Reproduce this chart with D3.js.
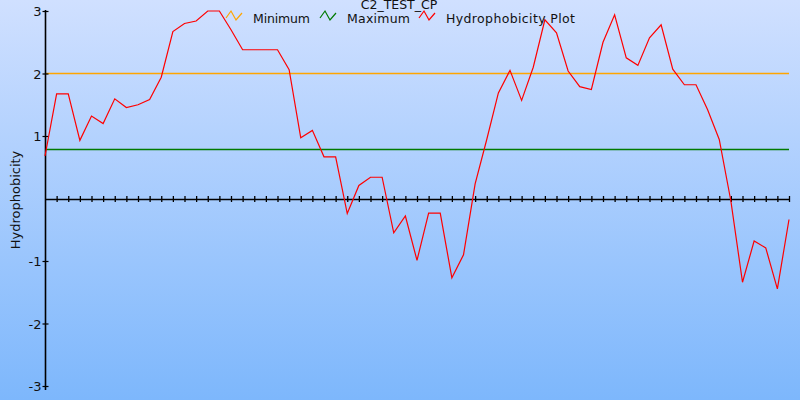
<!DOCTYPE html>
<html><head><meta charset="utf-8">
<script src="https://cdn.jsdelivr.net/npm/d3@7"></script>
<style>html,body{margin:0;padding:0;overflow:hidden;}svg{display:block;}</style>
</head><body>
<script>
const title = "C2_TEST_CP";
const yLabel = "Hydrophobicity";
const seriesNames = ["Minimum", "Maximum", "Hydrophobicity Plot"];
const seriesColors = ["#ffa500", "#007a00", "#ff0000"];
const minimumValue = 2.0;
const maximumValue = 0.8;
const yTicks = [-3, -2, -1, 1, 2, 3];
const positions = d3.range(0, 65);
const hydrophobicity = [0.68,1.675,1.675,0.93,1.32,1.2,1.595,1.456,1.5,1.584,1.94,2.67,2.8,2.84,3.0,3.0,2.7,2.38,2.38,2.38,2.38,2.06,0.97,1.09,0.667,0.667,-0.24,0.208,0.34,0.34,-0.55,-0.28,-0.99,-0.235,-0.235,-1.27,-0.9,0.235,0.944,1.69,2.05,1.57,2.1,2.86,2.65,2.04,1.79,1.744,2.5,2.94,2.25,2.13,2.57,2.78,2.07,1.82,1.82,1.42,0.944,-0.04,-1.34,-0.68,-0.79,-1.445,-0.336];

const W = 800, H = 400;
const svg = d3.select("body").append("svg").attr("width", W).attr("height", H)
  .style("font-family", "DejaVu Sans");
const defs = svg.append("defs");
const grad = defs.append("linearGradient").attr("id", "bg").attr("x1", 0).attr("y1", 0).attr("x2", 0).attr("y2", 1);
grad.append("stop").attr("offset", "0%").attr("stop-color", "#d0e0ff");
grad.append("stop").attr("offset", "100%").attr("stop-color", "#7db7fc");
svg.append("rect").attr("width", W).attr("height", H).attr("fill", "url(#bg)");

const x = d3.scaleLinear().domain([0, 64]).range([45, 789]);
const y = d3.scaleLinear().domain([-3, 3]).range([386, 11]);
const py = v => Math.round(y(v)) + 0.5;

// threshold lines
svg.append("line").attr("x1", x(0)).attr("x2", x(64)).attr("y1", py(minimumValue)).attr("y2", py(minimumValue))
  .attr("stroke", seriesColors[0]).attr("stroke-width", 1.6);
svg.append("line").attr("x1", x(0)).attr("x2", x(64)).attr("y1", py(maximumValue)).attr("y2", py(maximumValue))
  .attr("stroke", seriesColors[1]).attr("stroke-width", 1.3);

// x axis at zero
const xAxis = d3.axisBottom(x).tickValues(positions.slice(1)).tickSize(6).tickFormat("");
const gx = svg.append("g").attr("transform", `translate(0,${Math.round(y(0)) - 3})`).call(xAxis);
gx.select(".domain").remove();
gx.selectAll(".tick line").attr("stroke", "#000").attr("stroke-width", 1.3);
svg.append("line").attr("x1", x(0)).attr("x2", x(64)).attr("y1", py(0)).attr("y2", py(0))
  .attr("stroke", "#000").attr("stroke-width", 1.6);

// y axis
const yAxis = d3.axisLeft(y).tickValues(yTicks).tickSize(6).tickPadding(1).tickFormat(d => String(d));
const gy = svg.append("g").attr("transform", `translate(${x(0) + 3.5},0)`).call(yAxis);
gy.select(".domain").remove();
gy.selectAll(".tick line").attr("stroke", "#000").attr("stroke-width", 1.2);
gy.selectAll(".tick text").attr("font-size", 13).attr("fill", "#111").attr("font-family", "DejaVu Sans").attr("dy", "0.36em");
svg.append("line").attr("x1", x(0) + 0.5).attr("x2", x(0) + 0.5).attr("y1", 10).attr("y2", 390)
  .attr("stroke", "#000").attr("stroke-width", 1.6);

// data line
const line = d3.line().x((d, i) => x(positions[i])).y(d => y(d));
svg.append("path").datum(hydrophobicity).attr("d", line).attr("fill", "none")
  .attr("stroke", seriesColors[2]).attr("stroke-width", 1.2);

// title
svg.append("text").attr("x", 399).attr("y", 9).attr("text-anchor", "middle").attr("font-size", 12.5).attr("fill", "#111").text(title);

// legend
const legendX = [226, 320, 419];
const legendW = [57, 63, 129];
const iconPts = [[0, 7], [5, 0], [10, 9], [16, 2]];
const iconLine = d3.line();
const lg = svg.append("g");
seriesNames.forEach((name, k) => {
  const g = lg.append("g").attr("transform", `translate(${legendX[k]},11)`);
  g.append("path").attr("d", iconLine(iconPts)).attr("fill", "none").attr("stroke", seriesColors[k]).attr("stroke-width", 1.2);
  g.append("text").attr("x", 27).attr("y", 12).attr("font-size", 12.5).attr("fill", "#111")
    .attr("textLength", legendW[k]).attr("lengthAdjust", "spacing").text(name);
});

// y label
svg.append("text").attr("transform", "translate(20,200) rotate(-90)").attr("text-anchor", "middle")
  .attr("font-size", 13).attr("fill", "#111").text(yLabel);
</script>
</body></html>
